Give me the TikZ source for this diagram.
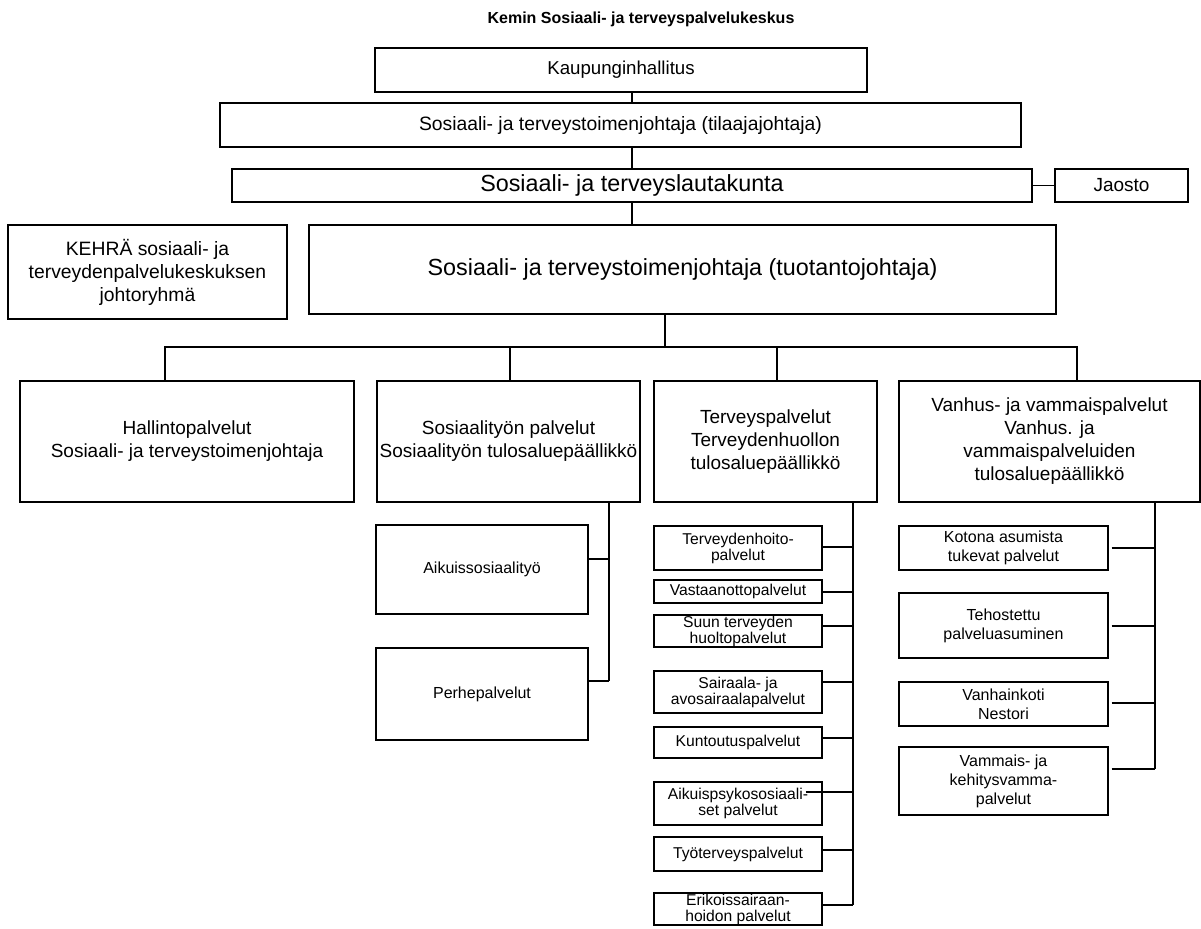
\documentclass[tikz,border=0pt]{standalone}
\usepackage{fontspec}
\setmainfont{Liberation Sans}

\tikzset{
  orgbox/.style 2 args={draw, align=center, inner sep=0pt,
    minimum width=#1*0.75pt, minimum height=#2*0.75pt},
  bigtxt/.style={font=\fontsize{17.5}{21}\selectfont},
  midtxt/.style={font=\fontsize{14.25}{17.25}\selectfont},
  subtxt/.style={font=\fontsize{12}{14.25}\selectfont},
  smalltxt/.style={font=\fontsize{11.75}{12}\selectfont},
}

\begin{document}
\begin{tikzpicture}[x=0.75pt, y=-0.75pt, line width=0.9pt]
\useasboundingbox (0,0) rectangle (1201,928);

\node [font=\bfseries\fontsize{12}{14}\selectfont] (title) at (641,19) {Kemin Sosiaali- ja terveyspalvelukeskus};

% top of the chain
\node [orgbox={492}{44}, font=\fontsize{14}{17}\selectfont] (kh) at (621,70) {Kaupunginhallitus};
\node [orgbox={801}{44}, font=\fontsize{14.5}{17}\selectfont] (tilaaja) at (620.5,125) {Sosiaali- ja terveystoimenjohtaja (tilaajajohtaja)};
\node [orgbox={800}{33}, bigtxt] (lauta) at (632,185.5) {Sosiaali- ja terveyslautakunta};
\node [orgbox={133}{33}, font=\fontsize{14.25}{15}\selectfont] (jaosto) at (1121.5,185.5) {Jaosto};
\node [orgbox={279}{94}, font=\fontsize{14.5}{17.25}\selectfont] (kehra) at (147.5,272) {KEHRÄ sosiaali- ja\\terveydenpalvelukeskuksen\\johtoryhmä};
\node [orgbox={747}{89}, bigtxt] (tuot) at (682.5,269.5) {Sosiaali- ja terveystoimenjohtaja (tuotantojohtaja)};

\coordinate (trunk) at (632,0);
\draw (kh.south -| trunk) -- (tilaaja.north -| trunk)
      (tilaaja.south -| trunk) -- (lauta.north -| trunk)
      (lauta.south -| trunk) -- (tuot.north -| trunk);
\draw (lauta.east) -- (jaosto.west);

% tulosalueet
\node [orgbox={334}{121}, midtxt] (hall) at (187,441.5) {Hallintopalvelut\\Sosiaali- ja terveystoimenjohtaja};
\node [orgbox={263}{121}, midtxt] (sos) at (508.5,441.5) {Sosiaalityön palvelut\\Sosiaalityön tulosaluepäällikkö};
\node [orgbox={223}{121}, midtxt] (terv) at (765.5,441.5) {Terveyspalvelut\\Terveydenhuollon\\tulosaluepäällikkö};
\node [orgbox={301}{121}, midtxt] (vanh) at (1049.5,441.5) {Vanhus- ja vammaispalvelut\\Vanhus. ja\\vammaispalveluiden\\tulosaluepäällikkö};

\coordinate (fork) at (665,347);
\draw (tuot.south -| fork) -- (fork);
\draw (hall.north -| 165,0) |- (fork -| 1077,0) -- (vanh.north -| 1077,0);
\draw (sos.north -| 510,0) -- (fork -| 510,0);
\draw (terv.north -| 777,0) -- (fork -| 777,0);

% Sosiaalityö
\node [orgbox={212}{89}, subtxt] (aik) at (482,569.5) {Aikuissosiaalityö};
\node [orgbox={212}{92}, subtxt] (perhe) at (482,694) {Perhepalvelut};

\coordinate (sosbar) at (609,0);
\draw (sos.south -| sosbar) -- (sosbar |- 0,681);
\foreach \n/\y in {aik/559, perhe/681}
  \draw (\n.east |- 0,\y) -- (sosbar |- 0,\y);

% Terveyspalvelut
\node [orgbox={168}{44}, smalltxt] (tho) at (738,548) {Terveydenhoito-\\palvelut};
\node [orgbox={168}{23}, smalltxt] (vast) at (738,591.5) {Vastaanottopalvelut};
\node [orgbox={168}{32}, smalltxt] (suun) at (738,631) {Suun terveyden\\huoltopalvelut};
\node [orgbox={168}{42}, smalltxt] (sair) at (738,692) {Sairaala- ja\\avosairaalapalvelut};
\node [orgbox={168}{31}, smalltxt] (kunt) at (738,742.5) {Kuntoutuspalvelut};
\node [orgbox={168}{43}, smalltxt] (aps) at (738,803.5) {Aikuispsykososiaali-\\set palvelut};
\node [orgbox={168}{34}, smalltxt] (tyo) at (738,854) {Työterveyspalvelut};
\node [orgbox={168}{32}, smalltxt] (eri) at (738,909) {Erikoissairaan-\\hoidon palvelut};

\coordinate (tervbar) at (853,0);
\draw (terv.south -| tervbar) -- (tervbar |- 0,905);
\foreach \n/\y/\d in {tho/547/0, vast/592/0, suun/626/0, sair/682/0,
                      kunt/738/0, aps/792/-17, tyo/850/0, eri/905/0}
  \draw (\n.east |- 0,\y) ++(\d,0) -- (tervbar |- 0,\y);

% Vanhus- ja vammaispalvelut
\node [orgbox={209}{44}, subtxt] (koto) at (1003.5,548) {Kotona asumista\\tukevat palvelut};
\node [orgbox={209}{65}, subtxt] (teho) at (1003.5,625.5) {Tehostettu\\palveluasuminen};
\node [orgbox={209}{44}, subtxt] (vko) at (1003.5,704) {Vanhainkoti\\Nestori};
\node [orgbox={209}{68}, subtxt] (vamm) at (1003.5,781) {Vammais- ja\\kehitysvamma-\\palvelut};

\coordinate (vanhbar) at (1155,0);
\draw (vanh.south -| vanhbar) -- (vanhbar |- 0,769);
\foreach \n/\y in {koto/548, teho/626, vko/703, vamm/769}
  \draw (\n.east |- 0,\y) ++(3,0) -- (vanhbar |- 0,\y);
\end{tikzpicture}
\end{document}
